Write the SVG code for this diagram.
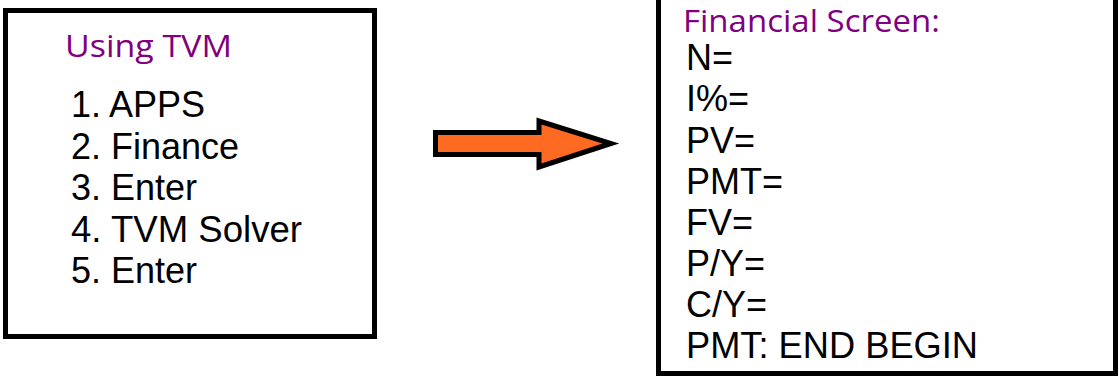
<svg xmlns="http://www.w3.org/2000/svg" width="1119" height="376" viewBox="0 0 1119 376">
<style>
.box{fill:#fff;stroke:#000;stroke-width:5}
.title{font-family:"Open Sans","DejaVu Sans",sans-serif;fill:#800080;font-size:31px}
.t{font-family:"Liberation Sans",Arial,sans-serif;fill:#000;font-size:36px}
.arrow{fill:#FF6A22;stroke:#000;stroke-width:5;stroke-linejoin:miter}
</style>
<rect width="1119" height="376" fill="#fff"/>
<g id="steps">
<rect class="box" x="5.5" y="10.5" width="369" height="326"/>
<text class="title" x="65" y="57" textLength="167" lengthAdjust="spacingAndGlyphs">Using TVM</text>
<text class="t" x="71" y="117">1. APPS</text>
<text class="t" x="71" y="159">2. Finance</text>
<text class="t" x="71" y="200">3. Enter</text>
<text class="t" x="71" y="242" textLength="231" lengthAdjust="spacingAndGlyphs">4. TVM Solver</text>
<text class="t" x="71" y="283">5. Enter</text>
</g>
<g id="connectors">
<path class="arrow" d="M435.5,132.5 L539,132.5 L539,121 L611,143.5 L539,167 L539,154.5 L435.5,154.5 Z"/>
</g>
<g id="screen">
<rect class="box" x="658.5" y="-10" width="457" height="383.5"/>
<text class="title" x="683" y="32" textLength="257" lengthAdjust="spacingAndGlyphs">Financial Screen:</text>
<text class="t" x="686" y="70">N=</text>
<text class="t" x="686" y="111">I%=</text>
<text class="t" x="686" y="153">PV=</text>
<text class="t" x="686" y="194">PMT=</text>
<text class="t" x="686" y="235">FV=</text>
<text class="t" x="686" y="276">P/Y=</text>
<text class="t" x="686" y="317">C/Y=</text>
<text class="t" x="686" y="358" textLength="292" lengthAdjust="spacingAndGlyphs">PMT: END BEGIN</text>
</g>
</svg>
